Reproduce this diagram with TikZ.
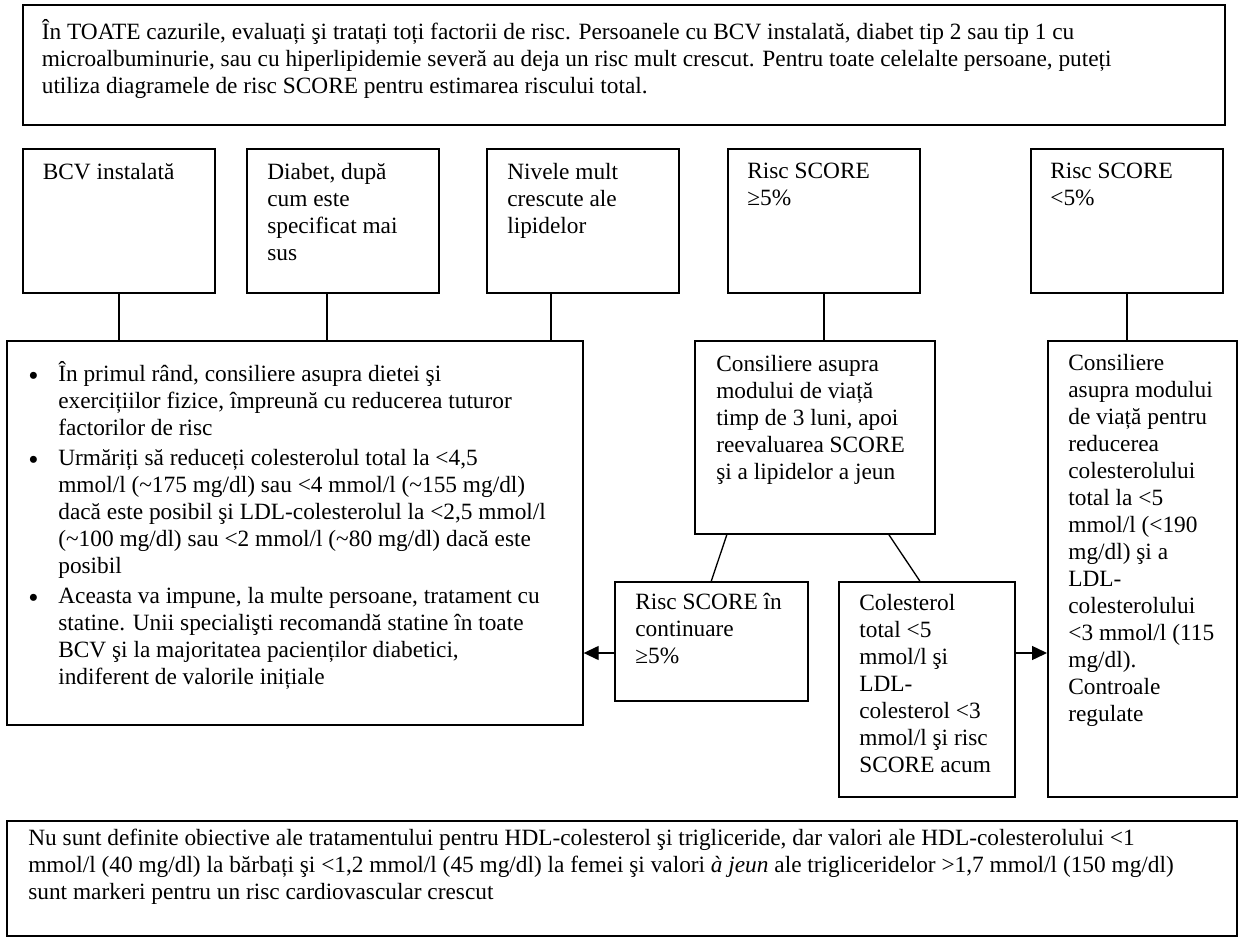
\documentclass[tikz,border=0pt]{standalone}
\usepackage{fontspec}
\setmainfont{Liberation Serif}
\usetikzlibrary{arrows.meta}

\newcommand{\ff}{\fontsize{14}{16.2}\selectfont}
\newcommand{\blt}{\makebox[18pt][l]{\raisebox{-2.2pt}{\fontsize{17.5}{17.5}\selectfont\textbullet}}}
\newcommand{\ind}{\hspace*{18pt}}

\begin{document}
\begin{tikzpicture}[x=0.6pt,y=0.6pt,yscale=-1,
    box/.style={draw, line width=1pt, anchor=north west, inner sep=0pt},
    wh/.style 2 args={minimum width=#1*0.6pt, minimum height=#2*0.6pt},
    txt/.style={anchor=north west, inner sep=0pt, align=left, font=\ff},
    link/.style={line width=0.8pt},
    arr/.style={line width=0.8pt, -{Triangle[length=9pt,width=8.4pt]}}]
    \useasboundingbox (0,0) rectangle (1238,938);

    %Shape: Rectangle
    \node[box, wh={1202}{120}] (top) at (22,4) {};
    %Shape: Rectangle
    \node[box, wh={192}{144}] (bcv) at (22,148) {};
    \node[box, wh={192}{144}] (diab) at (246,148) {};
    \node[box, wh={192}{144}] (lip) at (486,148) {};
    \node[box, wh={192}{144}] (hi) at (727,148) {};
    \node[box, wh={192}{144}] (lo) at (1030,148) {};
    %Shape: Rectangle
    \node[box, wh={576}{384}] (big) at (6,340) {};
    \node[box, wh={240}{193}] (mid) at (694,340) {};
    \node[box, wh={189}{456}] (reg) at (1047,340) {};
    \node[box, wh={193}{119}] (cont) at (614,581) {};
    \node[box, wh={176}{215}] (chol) at (838,581) {};
    \node[box, wh={1230}{115}] (note) at (6,820) {};

    %Straight Lines
    \draw[link] (bcv.south) -- (bcv.south |- big.north);
    \draw[link] ([xshift=-9.6pt]diab.south) coordinate (d1) -- (d1 |- big.north);
    \draw[link] ([xshift=-19.2pt]lip.south) coordinate (d2) -- (d2 |- big.north);
    \draw[link] (hi.south) -- (hi.south |- mid.north);
    \draw[link] (lo.south) -- (lo.south |- reg.north);
    \draw[link] ([xshift=-52.8pt]mid.south) -- (cont.north);
    \draw[link] ([xshift=44.4pt]mid.south) -- ([xshift=-4.2pt]chol.north);
    %Arrows
    \coordinate (ay) at (0,653);
    \draw[arr] (cont.west |- ay) -- (big.east |- ay);
    \draw[arr] (chol.east |- ay) -- (reg.west |- ay);

    % Text Node
    \node[txt] (toptxt) at (41.5,19) {În TOATE cazurile, evaluați şi tratați toți factorii de risc. Persoanele cu BCV instalată, diabet tip 2 sau tip 1 cu\\
    microalbuminurie, sau cu hiperlipidemie severă au deja un risc mult crescut. Pentru toate celelalte persoane, puteți\\
    utiliza diagramele de risc SCORE pentru estimarea riscului total.};
    % Text Node
    \node[txt] (bcvtxt) at (42.5,163) {BCV instalată};
    \node[txt] (diabtxt) at (267,163) {Diabet, după\\ cum este\\ specificat mai\\ sus};
    \node[txt] (liptxt) at (507,163) {Nivele mult\\ crescute ale\\ lipidelor};
    \node[txt] (hitxt) at (747,163) {Risc SCORE\\ ≥5\%};
    \node[txt] (lotxt) at (1050,163) {Risc SCORE\\ <5\%};
    % Text Node
    \node[txt] (bigtxt) at (28,361) {\blt În primul rând, consiliere asupra dietei şi\\
    \ind exercițiilor fizice, împreună cu reducerea tuturor\\
    \ind factorilor de risc\\[1.8pt]
    \blt Urmăriți să reduceți colesterolul total la <4,5\\
    \ind mmol/l (\textasciitilde175 mg/dl) sau <4 mmol/l (\textasciitilde155 mg/dl)\\
    \ind dacă este posibil şi LDL-colesterolul la <2,5 mmol/l\\
    \ind (\textasciitilde100 mg/dl) sau <2 mmol/l (\textasciitilde80 mg/dl) dacă este\\
    \ind posibil\\[1.8pt]
    \blt Aceasta va impune, la multe persoane, tratament cu\\
    \ind statine. Unii specialişti recomandă statine în toate\\
    \ind BCV şi la majoritatea pacienților diabetici,\\
    \ind indiferent de valorile inițiale};
    % Text Node
    \node[txt] (midtxt) at (716,355) {Consiliere asupra\\ modului de viață\\ timp de 3 luni, apoi\\ reevaluarea SCORE\\ şi a lipidelor a jeun};
    \node[txt] (regtxt) at (1068,354) {Consiliere\\ asupra modului\\ de viață pentru\\ reducerea\\ colesterolului\\ total la <5\\ mmol/l (<190\\ mg/dl) şi a\\ LDL-\\ colesterolului\\ <3 mmol/l (115\\ mg/dl).\\ Controale\\ regulate};
    \node[txt] (conttxt) at (635,593) {Risc SCORE în\\ continuare\\ ≥5\%};
    \node[txt] (choltxt) at (859,594) {Colesterol\\ total <5\\ mmol/l şi\\ LDL-\\ colesterol <3\\ mmol/l şi risc\\ SCORE acum};
    % Text Node
    \node[txt] (notetxt) at (28,829) {Nu sunt definite obiective ale tratamentului pentru HDL-colesterol şi trigliceride, dar valori ale HDL-colesterolului <1\\
    mmol/l (40 mg/dl) la bărbați şi <1,2 mmol/l (45 mg/dl) la femei şi valori \textit{à jeun} ale trigliceridelor >1,7 mmol/l (150 mg/dl)\\
    sunt markeri pentru un risc cardiovascular crescut};

\end{tikzpicture}
\end{document}
